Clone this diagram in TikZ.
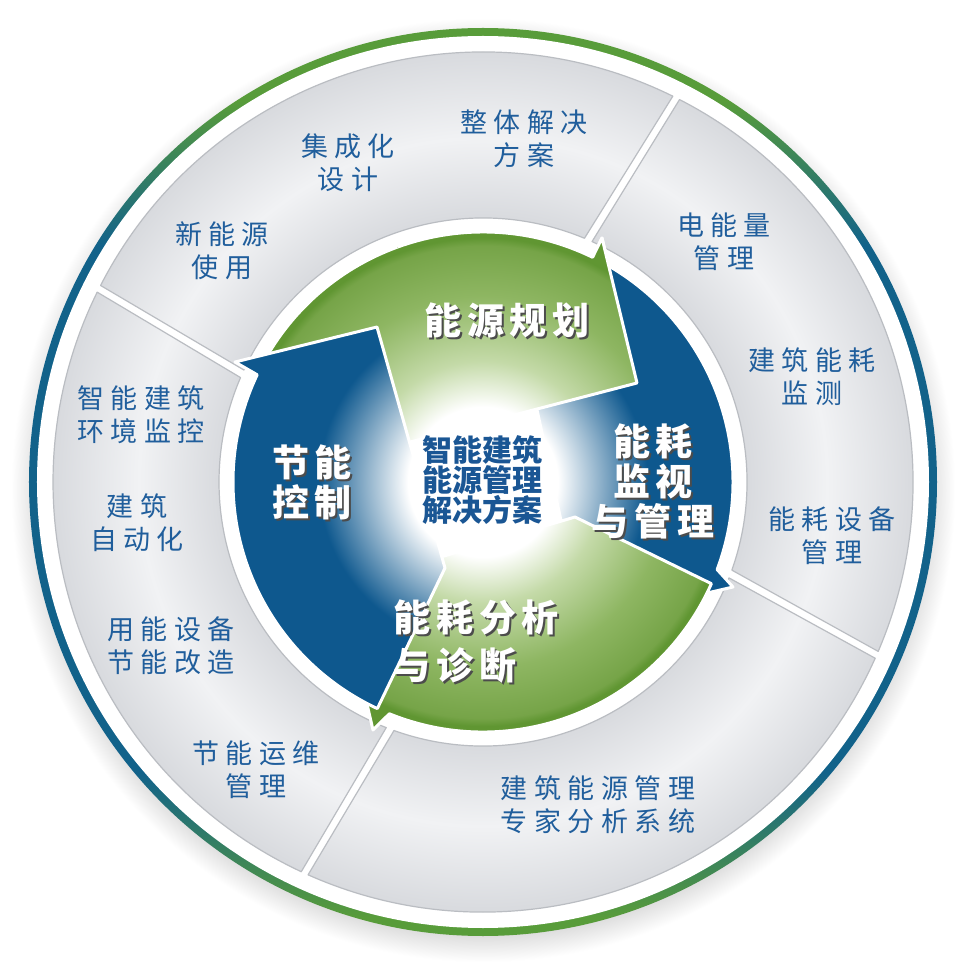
\documentclass[tikz,border=0pt]{standalone}
\usepackage{fontspec}
\newfontfamily\segfont[LetterSpace=24]{Noto Sans CJK SC}
\newfontfamily\capfont[LetterSpace=16]{Noto Sans CJK SC}
\newfontfamily\corefont{Noto Sans CJK SC}
\usepackage{tikz}
\usetikzlibrary{calc}

\definecolor{ringgreen}{RGB}{88,156,58}
\definecolor{ringteal}{RGB}{18,98,138}
\definecolor{segtext}{RGB}{32,94,156}
\definecolor{coretext}{RGB}{26,86,148}
\definecolor{arrowblue}{RGB}{14,88,142}
\definecolor{greenlight}{RGB}{196,218,168}
\definecolor{greenmid}{RGB}{142,182,98}
\definecolor{greendark}{RGB}{118,164,72}
\definecolor{greenrim}{RGB}{96,150,50}
\definecolor{segdark}{RGB}{216,218,222}
\definecolor{seglight}{RGB}{241,242,244}
\definecolor{segline}{RGB}{186,189,194}

\pgfdeclareradialshading{blueglow}{\pgfpointorigin}{color(0bp)=(white); color(6.7bp)=(white); color(10.3bp)=(arrowblue!45!white); color(14.7bp)=(arrowblue); color(50bp)=(arrowblue)}
\pgfdeclareradialshading{greenglow}{\pgfpointorigin}{color(0bp)=(white); color(6.7bp)=(white); color(10.8bp)=(greenlight); color(16.6bp)=(greenmid); color(21.1bp)=(greendark); color(21.8bp)=(greenrim); color(50bp)=(greenrim)}
\pgfdeclareradialshading{segshade}{\pgfpointorigin}{color(0bp)=(segdark); color(15.3bp)=(segdark); color(20bp)=(seglight); color(25bp)=(segdark); color(50bp)=(segdark)}
\pgfdeclareradialshading{halo}{\pgfpointorigin}{color(0bp)=(black!15); color(23.4bp)=(black!15); color(25bp)=(white); color(50bp)=(white)}
\pgfdeclareverticalshading{ringshade}{100bp}{color(0bp)=(ringgreen); color(26bp)=(ringgreen); color(34bp)=(ringteal); color(63bp)=(ringteal); color(71bp)=(ringgreen); color(100bp)=(ringgreen)}

\newcommand\pathGT{(151:250) arc[start angle=151, end angle=64, radius=250] -- (119,244) -- (154,99) -- (-88,36) -- cycle}
\newcommand\pathBR{(61:250) arc[start angle=61, end angle=-20.5, radius=250] -- (250,-105) -- (100,-140) -- (51,86) -- cycle}
\newcommand\pathGB{(-24:250) arc[start angle=-24, end angle=-112, radius=250] -- (-110,-248) -- (-143,-105) -- (92,-35) -- cycle}
\newcommand\pathBL{(-115:250) arc[start angle=-115, end angle=-205.4, radius=250] -- (-248,120) -- (-106,155) -- (-38,-86) -- cycle}

\newcommand\arrowcaption[4][]{%
  \node[capshadow,#1] (#2S) at ($(#3)+(2,-2)$) {#4};
  \node[arrowcap,#1] (#2) at (#3) {#4};}

\tikzset{
  seglabel/.style={text=segtext, font=\segfont\fontsize{27}{33}\selectfont, align=center, inner sep=0pt},
  arrowcap/.style={text=white, font=\capfont\bfseries\fontsize{37}{40}\selectfont, align=center, inner sep=0pt},
  capshadow/.style={arrowcap, text=black!70},
  corelabel/.style={text=coretext, font=\corefont\bfseries\fontsize{30}{30}\selectfont, align=center, inner sep=0pt},
  arrowrim/.style={draw=white, line width=3pt, line join=round},
  segcell/.style={draw=segline, line width=1.2pt, line join=round},
}

\begin{document}
\begin{tikzpicture}[x=1pt, y=1pt]
\useasboundingbox (-483,-484) rectangle (483,482);
\fill[white] (-483,-484) rectangle (483,482);

\shade[shading=halo] (0,-8) circle (472);
\shade[shading=ringshade] (0,0) circle (454);
\fill[white] (0,0) circle (446);

\foreach \oa/\ob/\ia/\ib in {63.8/152.8/154.9/67.4, 153.8/245.0/248.5/156.7, 246.0/335.8/338.7/250.3, 336.8/422.8/425.6/340.5}{
  \begin{scope}
    \clip (\oa:430) arc[start angle=\oa, end angle=\ob, radius=430] -- (\ia:264) arc[start angle=\ia, end angle=\ib, radius=264] -- cycle;
    \shade[shading=segshade] (0,0) circle (430);
  \end{scope}
  \draw[segcell] (\oa:430) arc[start angle=\oa, end angle=\ob, radius=430] -- (\ia:264) arc[start angle=\ia, end angle=\ib, radius=264] -- cycle;
}

\begin{scope}\clip \pathGT; \shade[shading=greenglow] (0,0) circle (280);\end{scope}
\draw[arrowrim] \pathGT;
\begin{scope}\clip \pathBR; \shade[shading=blueglow] (0,0) circle (280);\end{scope}
\draw[arrowrim] \pathBR;
\begin{scope}\clip \pathGB; \shade[shading=greenglow] (0,0) circle (280);\end{scope}
\draw[arrowrim] \pathGB;
\begin{scope}\clip \pathBL; \shade[shading=blueglow] (0,0) circle (280);\end{scope}
\draw[arrowrim] \pathBL;
\begin{scope}
  \clip (0,0) -- (-5:300) arc[start angle=-5, end angle=110, radius=300] -- cycle;
  \begin{scope}\clip \pathGT; \shade[shading=greenglow] (0,0) circle (280);\end{scope}
  \draw[arrowrim] \pathGT;
\end{scope}

\node[seglabel] (lblWhole) at (41,343) {整体解决\\方案};
\node[seglabel] (lblIntegr) at (-135,319) {集成化\\设计};
\node[seglabel] (lblNewEn) at (-261,231) {新能源\\使用};
\node[seglabel] (lblPower) at (241,240) {电能量\\管理};
\node[seglabel] (lblMonitor) at (329,105) {建筑能耗\\监测};
\node[seglabel] (lblDevice) at (349,-54) {能耗设备\\管理};
\node[seglabel] (lblExpert) at (115,-323) {建筑能源管理\\专家分析系统};
\node[seglabel] (lblOps) at (-227,-288) {节能运维\\管理};
\node[seglabel] (lblRetro) at (-312,-164) {用能设备\\节能改造};
\node[seglabel] (lblAuto) at (-346,-41) {建筑\\自动化};
\node[seglabel] (lblEnv) at (-342,67) {智能建筑\\环境监控};

\arrowcaption{capPlan}{24,162}{能源规划}
\arrowcaption{capMonitor}{170,1}{能耗\\监视\\与管理}
\arrowcaption{capControl}{-171,0}{节能\\控制}
\arrowcaption[anchor=west, align=left]{capAnalysis}{-90,-160}{能耗分析\\[8pt]与诊断}

\node[corelabel] (core) at (-1,2) {智能建筑\\能源管理\\解决方案};
\end{tikzpicture}
\end{document}
